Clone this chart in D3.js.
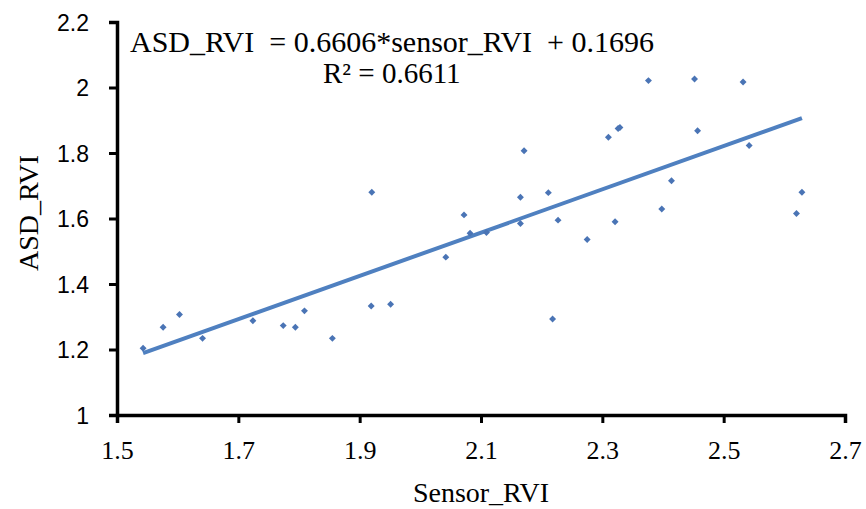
<!DOCTYPE html>
<html>
<head>
<meta charset="utf-8">
<script src="https://cdn.jsdelivr.net/npm/d3@7"></script>
<style>
  body { margin: 0; background: #fff; }
</style>
</head>
<body>
<div id="scatter"></div>
<script>
// Data
var sensorRVI = [1.543, 1.576, 1.603, 1.641, 1.724, 1.774, 1.794, 1.809, 1.855, 1.919, 1.951,
    1.920, 2.042, 2.072, 2.082, 2.109, 2.165, 2.165, 2.171, 2.211, 2.218, 2.227, 2.275,
    2.310, 2.321, 2.326, 2.329, 2.376, 2.398, 2.414, 2.452, 2.457, 2.532, 2.542, 2.620, 2.629];
var asdRVI = [1.204, 1.268, 1.307, 1.234, 1.288, 1.273, 1.268, 1.318, 1.234, 1.333, 1.338,
    1.680, 1.482, 1.611, 1.555, 1.557, 1.665, 1.585, 1.807, 1.679, 1.293, 1.595, 1.536,
    1.848, 1.590, 1.875, 1.878, 2.021, 1.629, 1.715, 2.026, 1.868, 2.017, 1.823, 1.615, 1.680];

var xTicks = [1.5, 1.7, 1.9, 2.1, 2.3, 2.5, 2.7];
var yTicks = [1, 1.2, 1.4, 1.6, 1.8, 2, 2.2];

// Trend line y = slope * x + intercept
var slope = 0.6606;
var intercept = 0.1696;
var eqLines = ["ASD_RVI  = 0.6606*sensor_RVI  + 0.1696", "R\u00B2 = 0.6611"];

var svgWidth = 866;
var svgHeight = 509;

var svg = d3.select("#scatter")
    .append("svg")
    .attr("width", svgWidth)
    .attr("height", svgHeight);

//Scales
var xScale = d3.scaleLinear().domain([1.5, 2.7]).range([117, 845]);
var yScale = d3.scaleLinear().domain([1, 2.2]).range([415, 22]);

var serif = "'Liberation Serif', 'Times New Roman', serif";
var sans = "'Liberation Sans', Arial, sans-serif";

//Axes
var bottomAxis = d3.axisBottom(xScale).tickValues(xTicks).tickSize(8).tickFormat(d3.format(""));
var leftAxis = d3.axisLeft(yScale).tickValues(yTicks).tickSize(8).tickFormat(d3.format(""));

var xAxis = svg.append("g")
    .attr("transform", "translate(0, 415)")
    .call(bottomAxis);
var yAxis = svg.append("g")
    .attr("transform", "translate(117, 0)")
    .call(leftAxis);

[xAxis, yAxis].forEach(function(ax) {
    ax.select(".domain").attr("stroke", "#000").attr("stroke-width", 3.5);
    ax.selectAll(".tick line").attr("stroke", "#000").attr("stroke-width", 3);
});

xAxis.selectAll(".tick text")
    .attr("fill", "#000")
    .attr("y", 0)
    .attr("dy", 44)
    .style("font-family", serif)
    .style("font-size", "26px");

yAxis.selectAll(".tick text")
    .attr("fill", "#000")
    .attr("x", -28)
    .attr("dy", "0.35em")
    .style("font-family", sans)
    .style("font-size", "23px");

//Axis titles
svg.append("text")
    .attr("x", 481)
    .attr("y", 502)
    .attr("text-anchor", "middle")
    .style("font-family", serif)
    .style("font-size", "28px")
    .text("Sensor_RVI");

svg.append("text")
    .attr("transform", "translate(38, 213) rotate(-90)")
    .attr("text-anchor", "middle")
    .style("font-family", serif)
    .style("font-size", "28px")
    .text("ASD_RVI");

//Trend line
var xExt = d3.extent(sensorRVI);
var lineData = xExt.map(function(x) { return [x, slope * x + intercept]; });
svg.append("path")
    .datum(lineData)
    .attr("fill", "none")
    .attr("stroke", "#4f80c0")
    .attr("stroke-width", 4)
    .attr("d", d3.line().x(d => xScale(d[0])).y(d => yScale(d[1])));

//Points (square turned 45 degrees, like the Excel diamond)
svg.selectAll(".pt")
    .data(sensorRVI)
    .enter()
    .append("path")
    .attr("class", "pt")
    .attr("transform", (d, i) => `translate(${xScale(d)}, ${yScale(asdRVI[i])}) rotate(45)`)
    .attr("d", d3.symbol().type(d3.symbolSquare).size(24))
    .attr("fill", "#4a74b5");

//Equation
svg.append("text")
    .attr("x", 130)
    .attr("y", 52)
    .style("font-family", serif)
    .style("font-size", "30px")
    .style("white-space", "pre")
    .text(eqLines[0]);
svg.append("text")
    .attr("x", 323)
    .attr("y", 83)
    .style("font-family", serif)
    .style("font-size", "29px")
    .text(eqLines[1]);
</script>
</body>
</html>
